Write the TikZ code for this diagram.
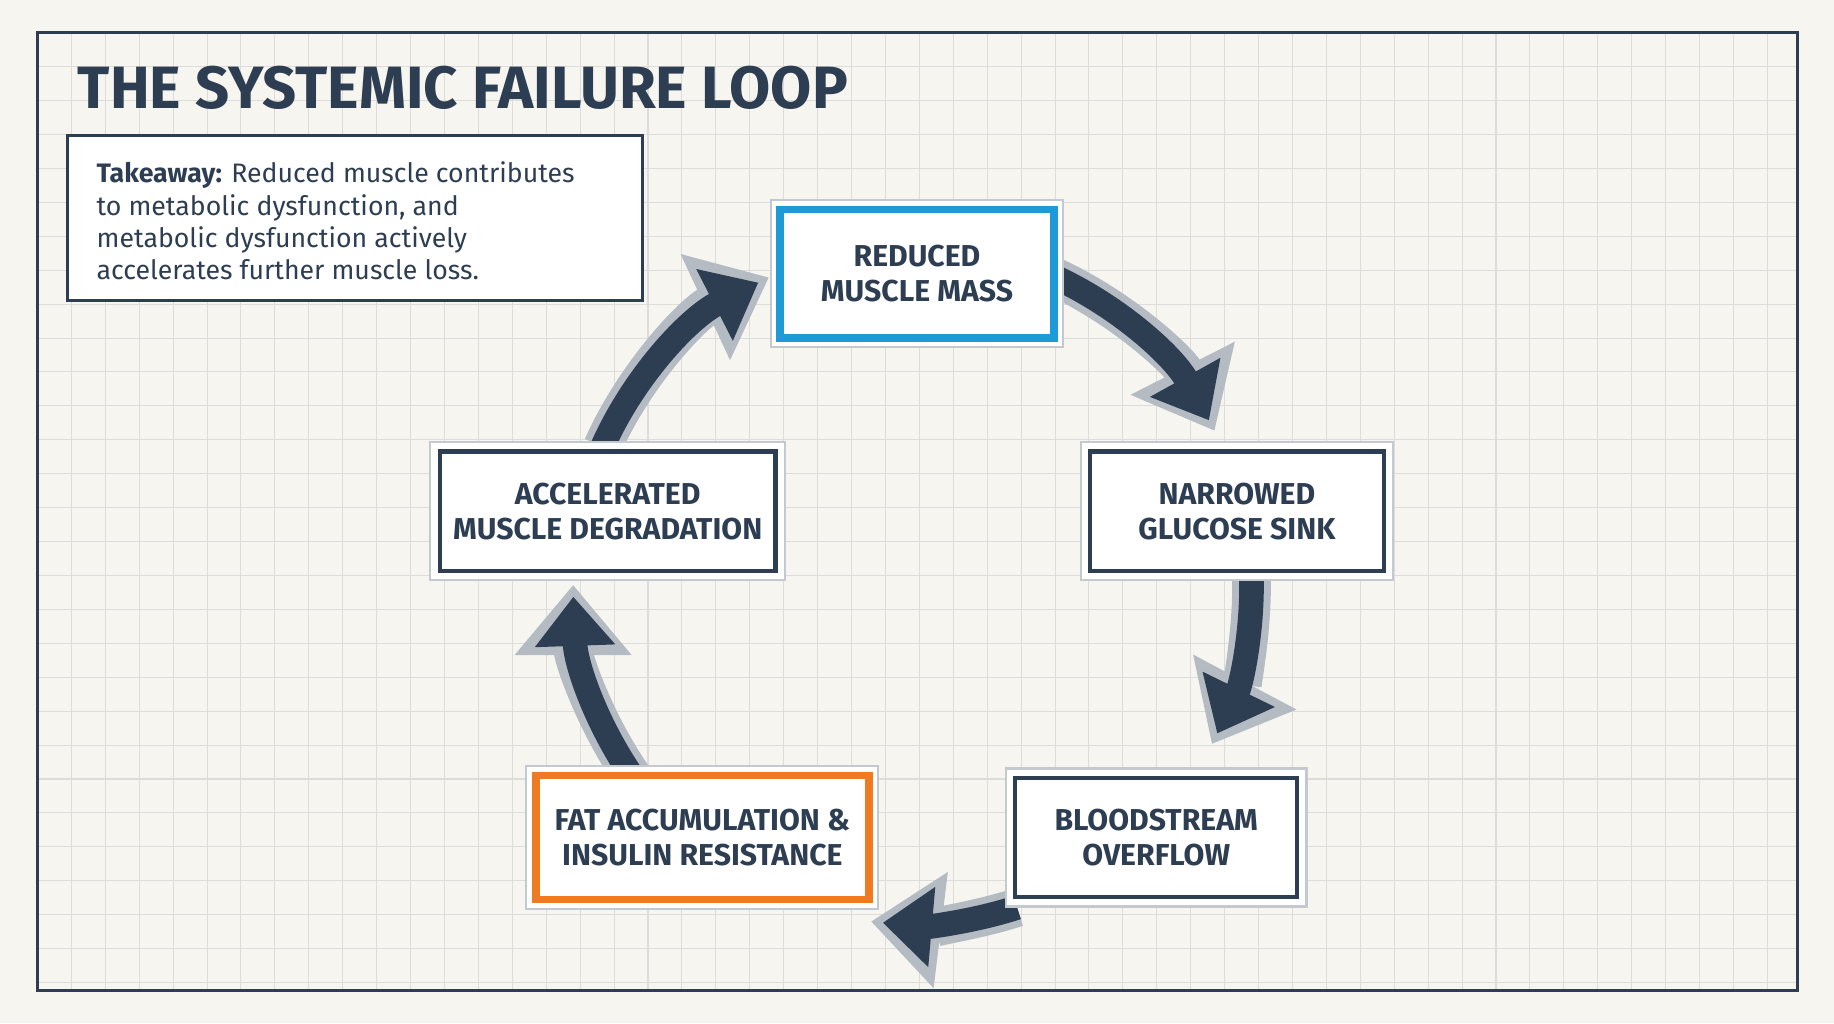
\documentclass[tikz,border=0pt]{standalone}
\usepackage{fontspec}
\setmainfont{Fira Sans}
\usetikzlibrary{arrows.meta,calc}
\definecolor{navy}{HTML}{2E3E52}
\definecolor{paper}{HTML}{F6F5F0}
\definecolor{gridc}{HTML}{DCDDDA}
\definecolor{boxblue}{HTML}{1E9AD6}
\definecolor{boxorange}{HTML}{F07A22}
\definecolor{rimgray}{HTML}{B4BBC3}
\tikzset{
  outerbox/.style={draw=rimgray!80, fill=white, line width=0.6pt},
  innerbox/.style={draw=navy, line width=1.2pt},
  steptext/.style={align=center, font=\fontsize{8.6}{10}\selectfont\bfseries, text=navy},
  rimarrow/.style={rimgray, line width=11pt, -{Triangle[width=32pt,length=20pt]}},
  corearrow/.style={navy, line width=7pt, -{Triangle[width=22pt,length=14pt]}}
}
\newcommand{\stepbox}[6]{% name, x1,y1,x2,y2, color
  \draw[outerbox] (#2-8,#3-8) rectangle (#4+8,#5+8);
  \draw[innerbox,draw=#6] (#2,#3) rectangle (#4,#5);
  \coordinate (#1) at ({(#2+#4)/2},{(#3+#5)/2});
}
\begin{document}
\begin{tikzpicture}[x=0.011696cm, y=-0.011696cm]
\fill[paper] (0,0) rectangle (1568,875);
\useasboundingbox (0,0) rectangle (1568,875);
% grid
\foreach \x in {61,90,...,1537}
  \draw[gridc, line width=0.3pt] (\x,28) -- (\x,847);
\foreach \y in {57,86,...,847}
  \draw[gridc, line width=0.3pt] (32,\y) -- (1537,\y);
\draw[navy, line width=0.8pt] (32,28) rectangle (1537,847);
% title and takeaway
\node[anchor=west, text=navy, font=\fontsize{17}{20}\selectfont\bfseries] (title) at (56,75) {THE SYSTEMIC FAILURE LOOP};
\draw[navy, fill=white, line width=0.8pt] (58,116) rectangle (549,257);
\node[anchor=north west, align=left, text=navy, font=\fontsize{7.6}{9.2}\selectfont] (takeaway) at (72,128)
  {\textbf{Takeaway:} Reduced muscle contributes\\to metabolic dysfunction, and\\metabolic dysfunction actively\\accelerates further muscle loss.};
% loop arrows
\coordinate (ctr) at (780,500);
\foreach \a/\b in {-66/-27, -2/28, 72/97, 143/180, 204/245} {
  \draw[rimarrow] ($(ctr)+(\a:290)$) arc[start angle=\a, end angle=\b, radius=290];
  \draw[corearrow] ($(ctr)+(\a:290)$) arc[start angle=\a, end angle=\b-2, radius=290];
}
% steps
\stepbox{reduced}{667}{179}{901}{289}{boxblue}
\stepbox{glucose}{932}{386}{1183}{488}{navy}
\stepbox{degrade}{376}{386}{663}{488}{navy}
\stepbox{fat}{458}{663}{743}{769}{boxorange}
\stepbox{blood}{868}{665}{1109}{767}{navy}
\draw[boxblue, line width=2.2pt] (667,179) rectangle (901,289);
\draw[boxorange, line width=2.2pt] (458,663) rectangle (743,769);
\node[steptext] (reducedtxt) at (reduced) {REDUCED\\MUSCLE MASS};
\node[steptext] (glucosetxt) at (glucose) {NARROWED\\GLUCOSE SINK};
\node[steptext] (degradetxt) at (degrade) {ACCELERATED\\MUSCLE DEGRADATION};
\node[steptext] (fattxt) at (fat) {FAT ACCUMULATION \&\\INSULIN RESISTANCE};
\node[steptext] (bloodtxt) at (blood) {BLOODSTREAM\\OVERFLOW};
\end{tikzpicture}
\end{document}
